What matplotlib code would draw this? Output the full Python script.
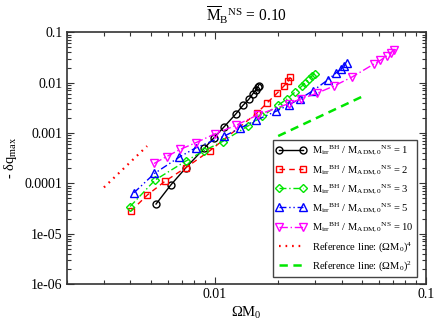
import matplotlib
matplotlib.use("Agg")
import matplotlib.pyplot as plt
from matplotlib.ticker import FixedLocator, LogLocator, NullFormatter

# ── Data ─────────────────────────────────────────────────────────────────────

x_q1 = [0.00529, 0.0062, 0.00733, 0.00892, 0.00992, 0.01107, 0.01257,
        0.01364, 0.01453, 0.01517, 0.01571, 0.0160, 0.01615]
y_q1 = [3.88e-5, 9.18e-5, 2.05e-4, 4.92e-4, 7.95e-4, 1.31e-3, 2.35e-3,
        3.55e-3, 4.67e-3, 6.0e-3, 7.14e-3, 8.19e-3, 8.78e-3]

x_q2 = [0.00403, 0.00481, 0.00585, 0.00733, 0.00947, 0.01588, 0.01771,
        0.01981, 0.02136, 0.02234, 0.02283]
y_q2 = [2.82e-5, 5.86e-5, 1.11e-4, 2.06e-4, 4.39e-4, 2.49e-3, 3.94e-3,
        6.23e-3, 8.7e-3, 1.08e-2, 1.29e-2]

x_q3 = [0.00399, 0.00523, 0.00733, 0.00887, 0.01091, 0.0144, 0.01686,
        0.01986, 0.0219, 0.02403, 0.02593, 0.02693, 0.02798, 0.02891, 0.02971]
y_q3 = [3.46e-5, 1.16e-4, 2.78e-4, 4.39e-4, 6.77e-4, 1.38e-3, 2.17e-3,
        3.52e-3, 4.63e-3, 6.52e-3, 8.58e-3, 1.006e-2, 1.18e-2, 1.36e-2, 1.52e-2]

x_q5 = [0.00416, 0.0052, 0.00682, 0.00818, 0.01107, 0.01313, 0.01571,
        0.01964, 0.02239, 0.02523, 0.02932, 0.03429, 0.03734, 0.03964,
        0.04096, 0.04218]
y_q5 = [6.51e-5, 1.57e-4, 3.33e-4, 5.10e-4, 8.59e-4, 1.23e-3, 1.79e-3,
        2.73e-3, 3.60e-3, 4.73e-3, 6.98e-3, 1.13e-2, 1.53e-2, 1.87e-2,
        2.19e-2, 2.46e-2]

x_q10 = [0.00518, 0.00594, 0.00687, 0.0082, 0.0100, 0.01257, 0.01597,
         0.02239, 0.02551, 0.03043, 0.03673, 0.04493, 0.05677, 0.06094,
         0.06561, 0.06809, 0.07058]
y_q10 = [2.48e-4, 3.41e-4, 4.70e-4, 6.47e-4, 9.54e-4, 1.41e-3, 2.28e-3,
         3.82e-3, 4.73e-3, 6.14e-3, 8.58e-3, 1.31e-2, 2.35e-2, 2.78e-2,
         3.46e-2, 3.93e-2, 4.45e-2]

# reference lines (end points)
x_ref4 = [0.003, 0.0048]
y_ref4 = [8.3e-5, 5.5e-4]
x_ref2 = [0.02, 0.05]
y_ref2 = [8.7e-4, 5.3e-3]

y_ticks = [1e-6, 1e-5, 1e-4, 1e-3, 1e-2, 1e-1]
y_ticklabels = ["1e-06", "1e-05", "0.0001", "0.001", "0.01", "0.1"]
x_ticks = [0.01, 0.1]
x_ticklabels = ["0.01", "0.1"]

def label(q):
    return (r"$\mathrm{M}_\mathrm{irr}{}^\mathrm{BH}$ / "
            r"$\mathrm{M}_\mathrm{ADM,0}{}^\mathrm{NS}$ = " + q)

# ── Style ────────────────────────────────────────────────────────────────────

plt.rcParams.update({
    "font.family": ["Liberation Serif", "DejaVu Serif"],
    "mathtext.fontset": "custom",
    "mathtext.rm": "Liberation Serif",
    "mathtext.it": "Liberation Serif:italic",
    "mathtext.bf": "Liberation Serif:bold",
    "lines.scale_dashes": False,
})

fig = plt.figure(figsize=(4.36, 3.20), dpi=100)
ax = fig.add_axes([0.153, 0.1125, 0.977 - 0.153, 0.899 - 0.1125])

mk = dict(markersize=5, markerfacecolor="none", markeredgewidth=1.0, linewidth=1.0)

ax.plot(x_q1, y_q1, "-", marker="o", color="black", label=label("1"), **mk)
ax.plot(x_q2, y_q2, marker="s", color="#ff0000", linestyle=(0, (4, 3)),
        label=label("2"), **mk)
ax.plot(x_q3, y_q3, marker="D", color="#00e600", linestyle=(0, (5, 2, 1, 2)),
        label=label("3"), **dict(mk, markersize=4.2))
ax.plot(x_q5, y_q5, marker="^", color="#0000ff", linestyle=(0, (5, 2, 1, 2, 1, 2)),
        label=label("5"), **dict(mk, markersize=5.5))
ax.plot(x_q10, y_q10, marker="v", color="#ff00ff", linestyle=(0, (6, 2, 1, 2)),
        label=label("10"), **dict(mk, markersize=5.5))

ax.plot(x_ref4, y_ref4, color="#ff0000", linewidth=1.6, linestyle=(0, (1.2, 3.5)),
        label=r"Reference line: (ΩM$_0$)$^4$")
ax.plot(x_ref2, y_ref2, color="#00e600", linewidth=1.8, linestyle=(0, (6, 4)),
        label=r"Reference line: (ΩM$_0$)$^2$")

ax.set_xscale("log")
ax.set_yscale("log")
ax.set_xlim(0.002, 0.1)
ax.set_ylim(1e-6, 0.1)

ax.xaxis.set_major_locator(FixedLocator(x_ticks))
ax.set_xticklabels(x_ticklabels)
ax.yaxis.set_major_locator(FixedLocator(y_ticks))
ax.set_yticklabels(y_ticklabels)
ax.xaxis.set_minor_locator(LogLocator(base=10, subs=range(2, 10)))
ax.yaxis.set_minor_locator(LogLocator(base=10, subs=range(2, 10), numticks=20))
ax.xaxis.set_minor_formatter(NullFormatter())
ax.yaxis.set_minor_formatter(NullFormatter())

ax.tick_params(which="both", direction="in", top=True, right=True,
               labelsize=10, color="#333333", width=0.8)
ax.tick_params(which="major", length=5, pad=3)
ax.tick_params(which="minor", length=3)
for s in ax.spines.values():
    s.set_linewidth(1.2)
    s.set_color("#333333")

ax.set_xlabel(r"ΩM$_0$", fontsize=10.5, labelpad=3)
ax.set_ylabel(r"- δq$_\mathrm{max}$", fontsize=10.5, labelpad=4)
ax.set_title(r"$\overline{\mathrm{M}}_\mathrm{B}{}^\mathrm{NS}$ = 0.10",
             fontsize=11.2, pad=8)

leg = ax.legend(loc="lower right", bbox_to_anchor=(0.975, 0.028),
                borderaxespad=0, fontsize=7.6, numpoints=2, handlelength=2.8,
                handletextpad=0.55, labelspacing=0.52, borderpad=0.35,
                fancybox=False, framealpha=1, edgecolor="#444444")
leg.get_frame().set_linewidth(1.0)

fig.savefig("out.png", dpi=100, facecolor="white")
